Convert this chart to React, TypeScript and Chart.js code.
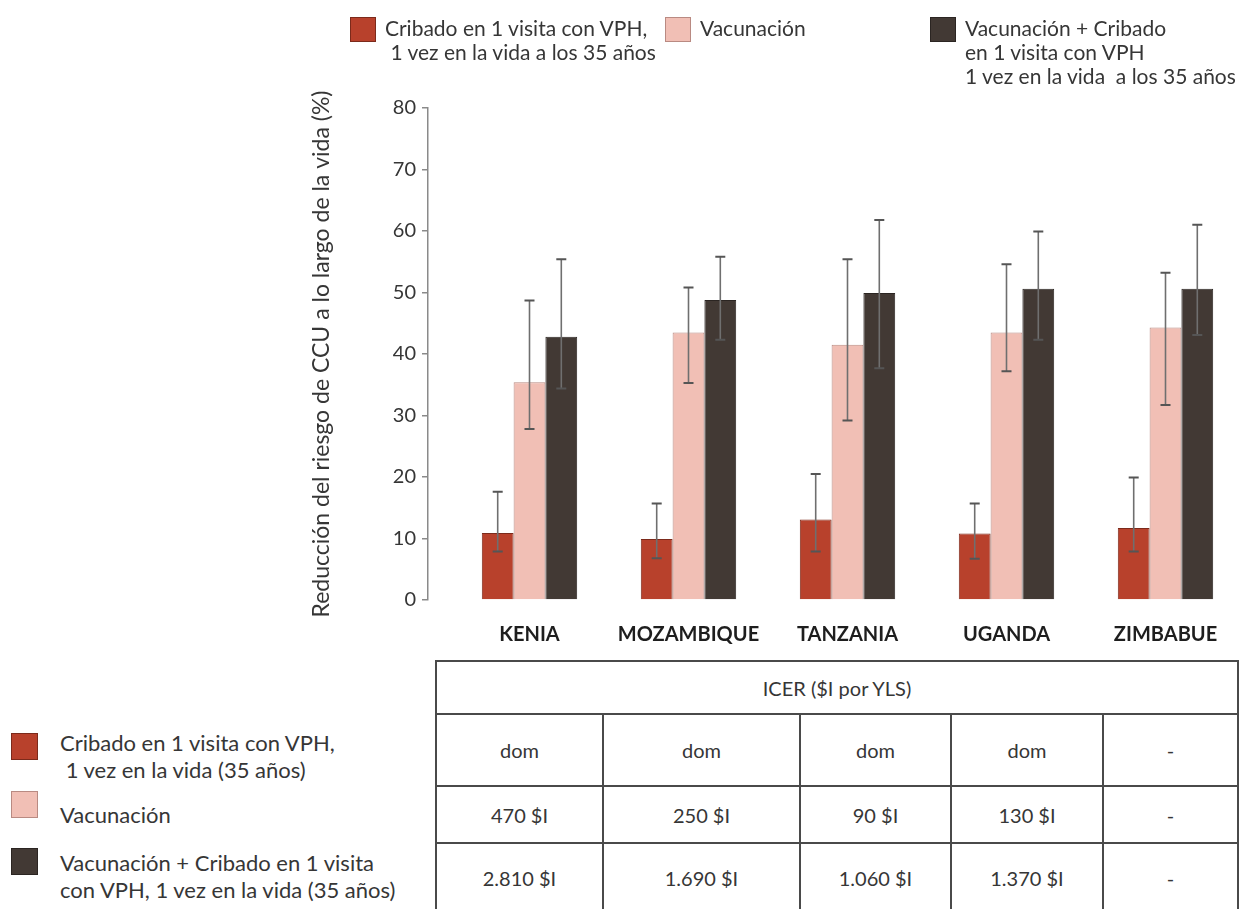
import React, { useEffect, useRef } from 'react';
import { Chart, registerables } from 'chart.js';

Chart.register(...registerables);

// ---- data ----
const countries = ['KENIA', 'MOZAMBIQUE', 'TANZANIA', 'UGANDA', 'ZIMBABUE'];

const screeningLegend = ['Cribado en 1 visita con VPH,', ' 1 vez en la vida a los 35 años'];
const vaccinationLegend = ['Vacunación'];
const comboLegend = ['Vacunación + Cribado', 'en 1 visita con VPH', '1 vez en la vida  a los 35 años'];

const screeningValues = [10.9, 9.9, 13.1, 10.8, 11.7];
const screeningLow = [7.9, 6.8, 7.9, 6.7, 7.9];
const screeningHigh = [17.6, 15.7, 20.5, 15.7, 19.9];

const vaccinationValues = [35.4, 43.5, 41.5, 43.5, 44.3];
const vaccinationLow = [27.8, 35.3, 29.2, 37.2, 31.7];
const vaccinationHigh = [48.7, 50.8, 55.4, 54.6, 53.2];

const comboValues = [42.8, 48.8, 49.9, 50.6, 50.6];
const comboLow = [34.4, 42.3, 37.7, 42.3, 43.1];
const comboHigh = [55.4, 55.8, 61.8, 59.9, 61.0];

const yTickValues = [0, 10, 20, 30, 40, 50, 60, 70, 80];
const yTitle = 'Reducción del riesgo de CCU a lo largo de la vida (%)';

const tableTitle = 'ICER ($I por YLS)';
const icerScreening = ['dom', 'dom', 'dom', 'dom', '-'];
const icerVaccination = ['470 $I', '250 $I', '90 $I', '130 $I', '-'];
const icerCombo = ['2.810 $I', '1.690 $I', '1.060 $I', '1.370 $I', '-'];

const sideLegendScreening = ['Cribado en 1 visita con VPH,', ' 1 vez en la vida (35 años)'];
const sideLegendVaccination = ['Vacunación'];
const sideLegendCombo = ['Vacunación + Cribado en 1 visita', 'con VPH, 1 vez en la vida (35 años)'];

// ---- styling ----
const FONT = 'Lato, "Open Sans", "DejaVu Sans", sans-serif';
const TEXT = '#363636';

const series = [
  { legend: screeningLegend, values: screeningValues, low: screeningLow, high: screeningHigh, fill: '#b8412c', edge: '#7c2a1b' },
  { legend: vaccinationLegend, values: vaccinationValues, low: vaccinationLow, high: vaccinationHigh, fill: '#f1bfb5', edge: '#b98a82' },
  { legend: comboLegend, values: comboValues, low: comboLow, high: comboHigh, fill: '#423934', edge: '#2b2522' },
];

// left edge of each swatch in the legend above the plot
const topLegendX = [350, 665, 930];

const sideLegend = [
  { lines: sideLegendScreening, color: series[0].fill, edge: series[0].edge },
  { lines: sideLegendVaccination, color: series[1].fill, edge: series[1].edge },
  { lines: sideLegendCombo, color: series[2].fill, edge: series[2].edge },
];

// whiskers drawn on top of every bar from its low/high range
const errorBars = {
  id: 'errorBars',
  afterDatasetsDraw(chart: any) {
    const { ctx } = chart;
    const y = chart.scales.y;
    series.forEach((s, di) => {
      const meta = chart.getDatasetMeta(di);
      meta.data.forEach((bar: any, i: number) => {
        const x = bar.x;
        const yLow = y.getPixelForValue(s.low[i]);
        const yHigh = y.getPixelForValue(s.high[i]);
        ctx.save();
        ctx.strokeStyle = '#6f6f6f';
        ctx.lineWidth = 1.6;
        ctx.beginPath();
        ctx.moveTo(x, yLow);
        ctx.lineTo(x, yHigh);
        ctx.stroke();
        ctx.strokeStyle = '#555';
        ctx.lineWidth = 2;
        ctx.beginPath();
        ctx.moveTo(x - 5, yHigh);
        ctx.lineTo(x + 5, yHigh);
        ctx.moveTo(x - 5, yLow);
        ctx.lineTo(x + 5, yLow);
        ctx.stroke();
        ctx.restore();
      });
    });
  },
};

// keep the first group clear of the value axis
const groupSpacing = {
  id: 'groupSpacing',
  afterLayout(chart: any) {
    const x = chart.scales.x;
    x.left = chart.chartArea.left + 22;
    x.right = chart.chartArea.right + 2;
    x.width = x.right - x.left;
    x.configure();
  },
};

function Swatch({ color, edge, w = 26, h = 25 }: { color: string; edge: string; w?: number; h?: number }) {
  return (
    <div
      style={{
        width: w,
        height: h,
        background: color,
        border: `1px solid ${edge}`,
        boxSizing: 'border-box',
        flex: 'none',
      }}
    />
  );
}

export default function App() {
  const canvasRef = useRef<HTMLCanvasElement>(null);

  useEffect(() => {
    const canvas = canvasRef.current;
    if (!canvas) return;
    Chart.defaults.font.family = FONT;
    const chart = new Chart(canvas, {
      type: 'bar',
      data: {
        labels: countries,
        datasets: series.map((s) => ({
          label: s.legend.join(' ').trim(),
          data: s.values,
          backgroundColor: s.fill,
          borderColor: s.edge,
          borderWidth: 1,
          categoryPercentage: 0.6,
          barPercentage: 1,
        })),
      },
      options: {
        animation: false,
        responsive: false,
        layout: { padding: { left: 308, right: 4, top: 108, bottom: 10 } },
        plugins: { legend: { display: false }, tooltip: { enabled: false } },
        scales: {
          x: {
            grid: { display: false, drawTicks: false },
            border: { display: false },
            ticks: { padding: 23, color: '#1e1e1e', font: { size: 20, weight: 'bold' } },
            afterFit: (s: any) => {
              s.height = 50;
            },
          },
          y: {
            min: 0,
            max: 80,
            afterBuildTicks: (s: any) => {
              s.ticks = yTickValues.map((value) => ({ value }));
            },
            afterFit: (s: any) => {
              s.width = 120;
            },
            grid: { drawOnChartArea: false, drawTicks: true, tickLength: 6, color: '#8a8a8a', lineWidth: 1.5 },
            border: { color: '#8a8a8a', width: 1.5 },
            ticks: { padding: 6, color: TEXT, font: { size: 20 } },
            title: { display: true, text: yTitle, color: TEXT, font: { size: 23 }, padding: 0 },
          },
        },
      },
      plugins: [groupSpacing, errorBars],
    });
    return () => chart.destroy();
  }, []);

  const cell: React.CSSProperties = {
    border: '2px solid #4a4a4a',
    textAlign: 'center',
    verticalAlign: 'middle',
    padding: 0,
  };
  const rowHeights = [72, 57, 70];
  const colWidths = [167, 197, 151, 152, 135];

  return (
    <div
      style={{
        position: 'absolute',
        left: 0,
        top: 0,
        width: 1247,
        height: 909,
        overflow: 'hidden',
        background: '#fff',
        fontFamily: FONT,
        color: TEXT,
      }}
    >
      <canvas ref={canvasRef} width={1247} height={660} style={{ position: 'absolute', left: 0, top: 0 }} />

      {/* legend above the plot */}
      {series.map((s, i) => (
        <div
          key={i}
          style={{ position: 'absolute', left: topLegendX[i], top: 17, display: 'flex', alignItems: 'flex-start' }}
        >
          <Swatch color={s.fill} edge={s.edge} />
          <div style={{ marginLeft: 9, marginTop: -1, fontSize: 21, lineHeight: '24px', whiteSpace: 'pre' }}>
            {s.legend.map((l, j) => (
              <div key={j}>{l}</div>
            ))}
          </div>
        </div>
      ))}

      {/* ICER table */}
      <table
        style={{
          position: 'absolute',
          left: 435,
          top: 660,
          width: 802,
          borderCollapse: 'collapse',
          tableLayout: 'fixed',
          fontSize: 20,
          color: TEXT,
          fontFamily: FONT,
        }}
      >
        <colgroup>
          {colWidths.map((w, i) => (
            <col key={i} style={{ width: w }} />
          ))}
        </colgroup>
        <tbody>
          <tr style={{ height: 53 }}>
            <td colSpan={5} style={cell}>
              {tableTitle}
            </td>
          </tr>
          {[icerScreening, icerVaccination, icerCombo].map((row, r) => (
            <tr key={r} style={{ height: rowHeights[r] }}>
              {row.map((v, c) => (
                <td key={c} style={cell}>
                  {v}
                </td>
              ))}
            </tr>
          ))}
        </tbody>
      </table>

      {/* legend beside the table */}
      {sideLegend.map((item, i) => {
        const tops = [729, 801, 849];
        const swatchTops = [733, 791, 848];
        return (
          <React.Fragment key={i}>
            <div style={{ position: 'absolute', left: 11, top: swatchTops[i] }}>
              <Swatch color={item.color} edge={item.edge} w={27} h={27} />
            </div>
            <div
              style={{
                position: 'absolute',
                left: 60,
                top: tops[i],
                fontSize: 22,
                lineHeight: '27px',
                whiteSpace: 'pre',
              }}
            >
              {item.lines.map((l, j) => (
                <div key={j}>{l}</div>
              ))}
            </div>
          </React.Fragment>
        );
      })}
    </div>
  );
}
